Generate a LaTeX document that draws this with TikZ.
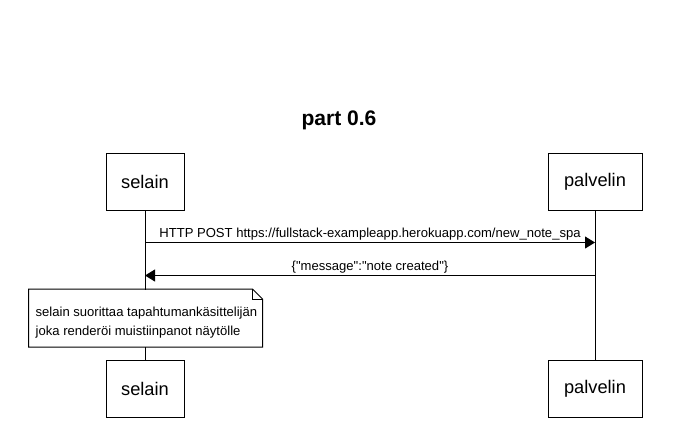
\documentclass[tikz,border=0pt]{standalone}
\usepackage{fontspec}
\setmainfont{Liberation Sans}
\usetikzlibrary{arrows.meta,positioning}

\begin{document}
\begin{tikzpicture}[x=0.75pt,y=-0.75pt,line width=0.75pt,
      every node/.style={font=\fontsize{9.8}{14.25}\selectfont},
      actor/.style={draw,fill=white,minimum height=42.75pt,
                    font=\fontsize{13.7}{16}\selectfont},
      life/.style={line width=0.75pt},
      msg/.style={-{Triangle[length=7.5pt,width=9pt]}},
      txt/.style={midway,anchor=base,yshift=4pt}
    ]
      \useasboundingbox[fill=white] (0,0) rectangle (678,430);
      \node[font=\bfseries\fontsize{15.8}{18}\selectfont] (title) at (339,120) {part 0.6};
      % osallistujat
      \node[actor,minimum width=58.5pt] (sel) at (145,181.5) {selain};
      \node[actor,minimum width=70.5pt] (pal) at (595,181.5) {palvelin};
      \node[actor,minimum width=58.5pt] (selb) at (145,388.5) {selain};
      \node[actor,minimum width=70.5pt] (palb) at (595,388.5) {palvelin};
      \draw[life] (sel) -- (selb);
      \draw[life] (pal) -- (palb);
      % viestit
      \coordinate (s1) at (145,242.5);
      \coordinate (p1) at (595,242.5);
      \coordinate (s2) at (145,275.5);
      \coordinate (p2) at (595,275.5);
      \draw[msg] (s1) -- (p1)
        node[txt] {HTTP POST https://fullstack-exampleapp.herokuapp.com/new\_note\_spa};
      \draw[msg] (p2) -- (s2)
        node[txt] {\{\textquotedbl message\textquotedbl:\textquotedbl note created\textquotedbl\}};
      % muistiinpano
      \node[fill=white,minimum width=174.75pt,minimum height=42.75pt,
            inner sep=0pt] (note) at (145.5,318) {};
      \draw (note.north west) -- ([xshift=-7.5pt]note.north east)
        -- ([yshift=-7.5pt]note.north east) -- (note.south east)
        -- (note.south west) -- cycle;
      \draw ([xshift=-7.5pt]note.north east) -- ([xshift=-7.5pt,yshift=-7.5pt]note.north east)
        -- ([yshift=-7.5pt]note.north east);
      \node[align=left,below right=13pt and 5pt of note.north west,inner sep=0pt] (notetxt)
        {selain suorittaa tapahtumankäsittelijän\\joka renderöi muistiinpanot näytölle};
    \end{tikzpicture}
\end{document}
